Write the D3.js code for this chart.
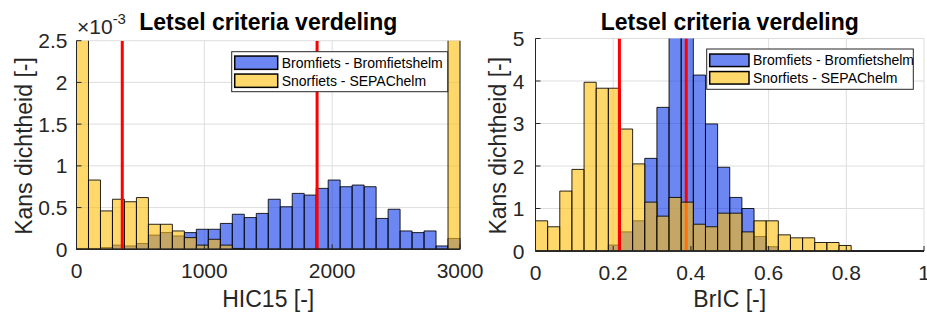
<!DOCTYPE html>
<html>
<head>
<meta charset="utf-8">
<script src="https://cdn.jsdelivr.net/npm/d3@7"></script>
<style>
    body { margin: 0; background: #fff; }
    svg { display: block; font-family: "Liberation Sans", Arial, sans-serif; }
</style>
</head>
<body>
<div id="chart"></div>
<script>
// ---- data ----
const chartTitle = "Letsel criteria verdeling";
const legendLabels = ["Bromfiets - Bromfietshelm", "Snorfiets - SEPAChelm"];

// HIC15 panel, densities in units of 1e-3, 32 bins from 0 to 3000
const hicBinWidth = 93.75;
const hicBromfiets = [0.01, 0.01, 0.02, 0.05, 0.04, 0.07, 0.17, 0.20, 0.16, 0.20, 0.24, 0.24, 0.31, 0.42, 0.38, 0.43,
    0.60, 0.51, 0.67, 0.65, 0.73, 0.83, 0.75, 0.77, 0.75, 0.37, 0.48, 0.22, 0.20, 0.22, 0.04, 0.13];
const hicSnorfiets = [3.6, 0.83, 0.46, 0.60, 0.57, 0.62, 0.30, 0.30, 0.22, 0.14, 0.05, 0.12, 0.05, 0.01, 0, 0,
    0, 0, 0, 0, 0, 0, 0, 0, 0, 0, 0, 0, 0, 0, 0, 4.9];
const hicMedians = [1882, 358];   // Bromfiets, Snorfiets
const hicTicksX = [0, 1000, 2000, 3000];
const hicTicksY = [0, 0.5, 1, 1.5, 2, 2.5];

// BrIC panel, 32 bins from 0 to 1
const bricBinWidth = 0.03125;
const bricBromfiets = [0, 0, 0, 0, 0, 0, 0.14, 0.45, 0.71, 2.18, 3.38, 6.2, 5.7, 4.14, 2.99, 1.97,
    1.26, 1.00, 0.34, 0.10, 0, 0, 0, 0, 0, 0, 0, 0, 0, 0, 0, 0];
const bricSnorfiets = [0.71, 0.57, 1.41, 1.92, 3.97, 3.83, 3.83, 2.87, 2.05, 1.15, 0.82, 1.26, 1.15, 0.63, 0.57, 0.89,
    0.89, 0.45, 0.71, 0.71, 0.38, 0.31, 0.31, 0.20, 0.20, 0.13, 0, 0, 0, 0, 0, 0];
const bricMedians = [0.388, 0.216];
const bricTicksX = [0, 0.2, 0.4, 0.6, 0.8, 1];
const bricTicksY = [0, 1, 2, 3, 4, 5];

// ---- drawing ----
const width = 927, height = 314;
const blueFill = "#0a35ea", yellowFill = "#ffbe0a", faceAlpha = 0.6;
const axisColor = "#262626";

const svg = d3.select("#chart").append("svg")
    .attr("width", width).attr("height", height)
    .attr("viewBox", [0, 0, width, height]);

const drawPanel = (p) => {
    const xScale = d3.scaleLinear().domain(p.xDomain).range([p.left, p.right]);
    const yScale = d3.scaleLinear().domain(p.yDomain).range([p.bottom, p.top]);
    const g = svg.append("g");

    g.append("clipPath").attr("id", p.id + "-clip")
        .append("rect")
        .attr("x", p.left - 2).attr("y", p.top)
        .attr("width", p.right - p.left + 4).attr("height", p.bottom - p.top + 2);

    // grid
    const grid = g.append("g").attr("stroke", "#dedede").attr("stroke-width", 1);
    grid.selectAll(".gx").data(p.xTicks).join("line")
        .attr("x1", d => xScale(d)).attr("x2", d => xScale(d))
        .attr("y1", p.top).attr("y2", p.bottom);
    grid.selectAll(".gy").data(p.yTicks).join("line")
        .attr("x1", p.left).attr("x2", p.right)
        .attr("y1", d => yScale(d)).attr("y2", d => yScale(d));

    const plot = g.append("g").attr("clip-path", `url(#${p.id}-clip)`);

    const barPath = (v, i) => {
        const x0 = xScale(i * p.binWidth), x1 = xScale((i + 1) * p.binWidth);
        const y0 = yScale(0), y1 = yScale(v);
        return `M${x0},${y0}V${y1}H${x1}V${y0}Z`;
    };
    const drawBars = (values, color) => {
        plot.append("g").selectAll("path")
            .data(values)
            .join("path")
                .attr("d", barPath)
                .attr("fill", color)
                .attr("fill-opacity", faceAlpha)
                .attr("stroke", "#000")
                .attr("stroke-opacity", 0.85)
                .attr("stroke-width", 1);
    };
    const drawMedian = (v) => {
        plot.append("line")
            .attr("x1", xScale(v)).attr("x2", xScale(v))
            .attr("y1", p.top).attr("y2", p.bottom)
            .attr("stroke", "#ff0000").attr("stroke-width", 3);
    };

    drawBars(p.blue, blueFill);
    drawMedian(p.medians[0]);
    drawBars(p.yellow, yellowFill);
    drawMedian(p.medians[1]);

    // axes (box off, ticks inward)
    const ax = g.append("g").attr("stroke", axisColor);
    ax.append("line").attr("x1", p.left).attr("x2", p.left).attr("y1", p.top).attr("y2", p.bottom);
    ax.append("line").attr("x1", p.left).attr("x2", p.right).attr("y1", p.bottom).attr("y2", p.bottom)
        .attr("stroke-width", 1.5);
    ax.selectAll(".ty").data(p.yTicks).join("line")
        .attr("x1", p.left).attr("x2", p.left + 5)
        .attr("y1", d => yScale(d)).attr("y2", d => yScale(d));
    ax.selectAll(".tx").data(p.xTicks).join("line")
        .attr("x1", d => xScale(d)).attr("x2", d => xScale(d))
        .attr("y1", p.bottom).attr("y2", p.bottom - 5);

    g.append("g").selectAll("text").data(p.yTicks).join("text")
        .attr("x", p.left - p.yPad).attr("y", d => yScale(d)).attr("dy", "0.36em")
        .attr("text-anchor", "end").attr("font-size", 21).attr("fill", axisColor)
        .text(d => d);
    g.append("g").selectAll("text").data(p.xTicks).join("text")
        .attr("x", d => xScale(d)).attr("y", p.bottom + 29)
        .attr("text-anchor", "middle").attr("font-size", 21).attr("fill", axisColor)
        .text(d => d);

    // labels
    g.append("text")
        .attr("x", (p.left + p.right) / 2).attr("y", 306.5)
        .attr("text-anchor", "middle").attr("font-size", 23).attr("fill", axisColor)
        .text(p.xLabel);
    g.append("text")
        .attr("transform", `translate(${p.yLabelX}, ${(p.top + p.bottom) / 2 + 1}) rotate(-90)`)
        .attr("text-anchor", "middle").attr("font-size", 23).attr("fill", axisColor)
        .text("Kans dichtheid [-]");
    g.append("text")
        .attr("x", (p.left + p.right) / 2).attr("y", 30)
        .attr("text-anchor", "middle").attr("font-size", 23).attr("font-weight", "bold")
        .attr("fill", "#000")
        .text(chartTitle);

    // legend
    const lg = g.append("g");
    const L = p.legend;
    lg.append("rect")
        .attr("x", L.x).attr("y", L.y).attr("width", L.w).attr("height", L.h)
        .attr("fill", "#fff").attr("stroke", axisColor).attr("stroke-width", 1);
    lg.selectAll(".patch").data(legendLabels).join("rect")
        .attr("x", L.x + 3).attr("y", (d, i) => L.y + L.row0 + i * L.rowStep - L.ph / 2)
        .attr("width", L.pw).attr("height", L.ph)
        .attr("fill", (d, i) => i === 0 ? blueFill : yellowFill)
        .attr("fill-opacity", faceAlpha)
        .attr("stroke", "#000").attr("stroke-width", 1.5);
    lg.selectAll(".lt").data(legendLabels).join("text")
        .attr("x", L.x + L.pw + 7).attr("y", (d, i) => L.y + L.row0 + i * L.rowStep).attr("dy", "0.36em")
        .attr("font-size", 14).attr("fill", "#000")
        .text(d => d);
    return g;
};

const hicPanel = drawPanel({
    id: "hic", left: 76.5, right: 460, top: 40.7, bottom: 249.3,
    xDomain: [0, 3000], yDomain: [0, 2.5],
    xTicks: hicTicksX, yTicks: hicTicksY, binWidth: hicBinWidth,
    blue: hicBromfiets, yellow: hicSnorfiets, medians: hicMedians,
    xLabel: "HIC15 [-]", yLabelX: 31.5, yPad: 9,
    legend: { x: 231.7, y: 51.7, w: 216, h: 40, pw: 43, ph: 13.3, row0: 11, rowStep: 18 }
});

// exponent label of the HIC15 density axis
hicPanel.append("text")
    .attr("x", 77).attr("y", 34).attr("font-size", 21).attr("fill", axisColor)
    .text("\u00d710")
    .append("tspan").attr("dy", -10).attr("font-size", 15).text("-3");

drawPanel({
    id: "bric", left: 535.5, right: 924, top: 38.5, bottom: 251,
    xDomain: [0, 1], yDomain: [0, 5],
    xTicks: bricTicksX, yTicks: bricTicksY, binWidth: bricBinWidth,
    blue: bricBromfiets, yellow: bricSnorfiets, medians: bricMedians,
    xLabel: "BrIC [-]", yLabelX: 506, yPad: 11,
    legend: { x: 706.7, y: 49, w: 206.6, h: 40.3, pw: 39.3, ph: 12.5, row0: 11.3, rowStep: 17.5 }
});
</script>
</body>
</html>
